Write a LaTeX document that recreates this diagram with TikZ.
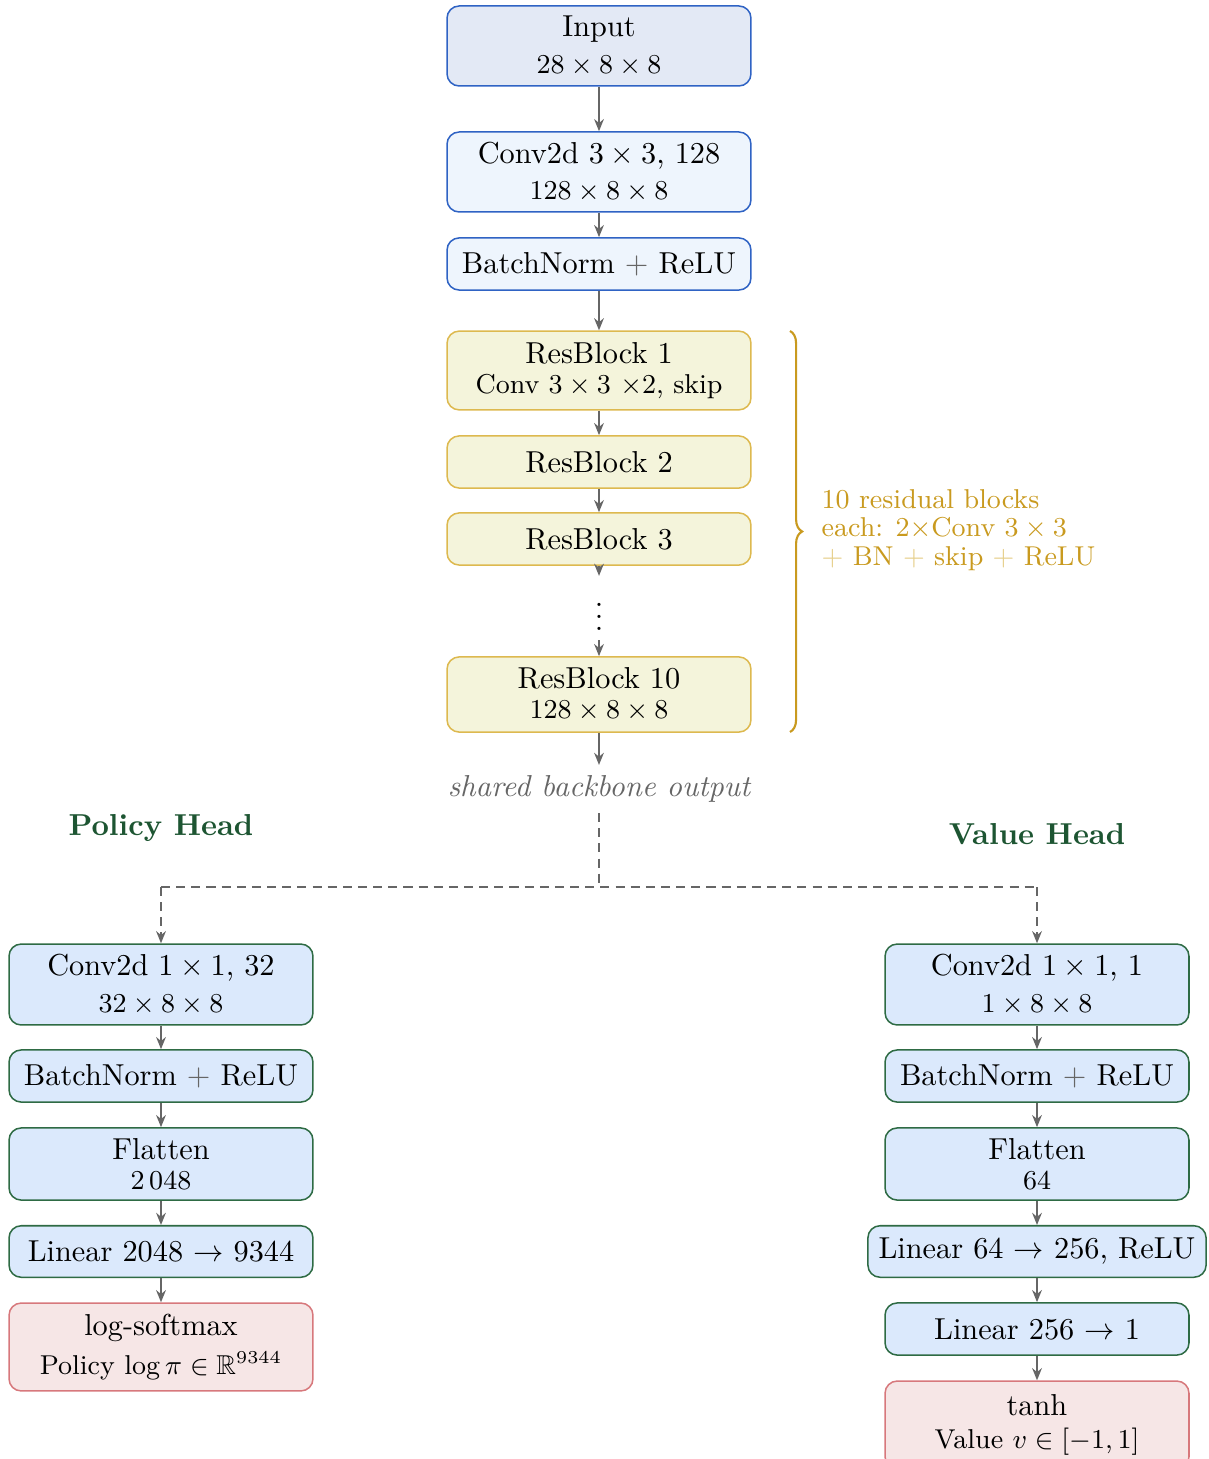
\documentclass[tikz,border=0pt]{standalone}
\usepackage{amsmath,amssymb}
\usetikzlibrary{arrows.meta,decorations.pathreplacing}

\definecolor{edgeblue}{HTML}{2F63C4}
\definecolor{inputfill}{HTML}{E3E9F5}
\definecolor{stemfill}{HTML}{EEF5FD}
\definecolor{resfill}{HTML}{F4F4DB}
\definecolor{resedge}{HTML}{DDB94F}
\definecolor{headfill}{HTML}{DBE9FC}
\definecolor{headedge}{HTML}{2E6B44}
\definecolor{outfill}{HTML}{F6E6E6}
\definecolor{outedge}{HTML}{D7787C}
\definecolor{gold}{HTML}{C99A1F}
\definecolor{goldlight}{HTML}{E6CF8C}
\definecolor{darkgreen}{HTML}{1D5532}
\definecolor{arrgray}{HTML}{666666}

\tikzset{
  box/.style={rounded corners=4pt, line width=0.5pt, minimum width=100.3pt,
    inner xsep=3.5pt, inner ysep=2pt, align=center},
  stem/.style={box, draw=edgeblue, fill=stemfill},
  resblk/.style={box, draw=resedge, fill=resfill},
  headblk/.style={box, draw=headedge, fill=headfill},
  outblk/.style={box, draw=outedge, fill=outfill},
  arr/.style={draw=arrgray, line width=0.7pt, -{Stealth[length=4pt,width=3.2pt]}},
  dashline/.style={draw=arrgray, line width=0.7pt, dash pattern=on 3pt off 2pt},
  headtitle/.style={font=\bfseries, text=darkgreen}
}

\newcommand{\gplus}{{\color{arrgray}$+$}}

\begin{document}
\begin{tikzpicture}[x=0.33pt,y=-0.33pt]
    \useasboundingbox (0,0) rectangle (1208,1459);

    % Tronco común
    \node[stem, fill=inputfill, minimum height=26.4pt] (input) at (599,46)
        {Input\\{\small $28\times8\times8$}};
    \node[stem, minimum height=26.4pt] (conv) at (599,172)
        {Conv2d $3\times3$, 128\\{\small $128\times8\times8$}};
    \node[stem, minimum height=17.2pt] (bn) at (599,264) {BatchNorm \gplus\ ReLU};

    % Bloques residuales
    \node[resblk, minimum height=26pt] (rb1) at (599,370.5)
        {ResBlock 1\\[-2pt]{\small Conv $3\times3$ $\times$2, skip}};
    \node[resblk, minimum height=17.2pt] (rb2) at (599,462) {ResBlock 2};
    \node[resblk, minimum height=17.2pt] (rb3) at (599,539) {ResBlock 3};
    \node[inner sep=0pt, minimum height=20.8pt] (dots) at (599,608) {$\vdots$};
    \node[resblk, minimum height=24.8pt] (rb10) at (599,694.5)
        {ResBlock 10\\[-2pt]{\small $128\times8\times8$}};

    \node[text=arrgray, font=\itshape, inner sep=3.3pt] (shared) at (599,789)
        {shared backbone output};

    \draw[arr] (input) -- (conv);
    \draw[arr] (conv) -- (bn);
    \draw[arr] (bn) -- (rb1);
    \draw[arr] (rb1) -- (rb2);
    \draw[arr] (rb2) -- (rb3);
    \draw[arr] (rb3) -- (dots);
    \draw[arr] (dots) -- (rb10);
    \draw[arr] (rb10) -- (shared);

    % Llave
    \coordinate (btop) at (790,331);
    \coordinate (bbot) at (790,732);
    \draw[gold, line width=0.7pt, decorate, decoration={brace, amplitude=4pt}]
        (btop) -- (bbot);
    \node[anchor=west, align=left, text=gold, font=\small, inner sep=0pt] (bnote) at (821,530)
        {10 residual blocks\\[-1.5pt]each: 2$\times$Conv $3\times3$\\[-1.5pt]
         {\color{goldlight}$+$} BN {\color{goldlight}$+$} skip {\color{goldlight}$+$} ReLU};

    % Bifurcación
    \coordinate (split) at (599,887);
    \coordinate (lsplit) at (161,887);
    \coordinate (rsplit) at (1037,887);
    \draw[dashline] (shared) -- (split);
    \draw[dashline] (lsplit) -- (rsplit);

    \node[headtitle] (ptitle) at (161,828) {Policy Head};
    \node[headtitle] (vtitle) at (1037,834) {Value Head};

    % Cabeza de política
    \node[headblk, minimum height=26.7pt] (pconv) at (161,984.5)
        {Conv2d $1\times1$, 32\\{\small $32\times8\times8$}};
    \node[headblk, minimum height=17.2pt] (pbn) at (161,1076) {BatchNorm \gplus\ ReLU};
    \node[headblk, minimum height=23.8pt] (pflat) at (161,1164)
        {Flatten\\[-2pt]{\small 2\,048}};
    \node[headblk, minimum height=17pt] (plin) at (161,1251.5) {Linear 2048 $\to$ 9344};
    \node[outblk, minimum height=29pt] (pout) at (161,1347)
        {log-softmax\\[1pt]{\small Policy $\log\pi\in\mathbb{R}^{9344}$}};

    \draw[dashline, -{Stealth[length=4pt,width=3.2pt]}] (lsplit) -- (pconv);
    \draw[arr] (pconv) -- (pbn);
    \draw[arr] (pbn) -- (pflat);
    \draw[arr] (pflat) -- (plin);
    \draw[arr] (plin) -- (pout);

    % Cabeza de valor
    \node[headblk, minimum height=26.7pt] (vconv) at (1037,984.5)
        {Conv2d $1\times1$, 1\\{\small $1\times8\times8$}};
    \node[headblk, minimum height=17.2pt] (vbn) at (1037,1076) {BatchNorm \gplus\ ReLU};
    \node[headblk, minimum height=23.8pt] (vflat) at (1037,1164)
        {Flatten\\[-2pt]{\small 64}};
    \node[headblk, minimum height=17pt] (vlin1) at (1037,1251.5)
        {Linear 64 $\to$ 256, ReLU};
    \node[headblk, minimum height=17.2pt] (vlin2) at (1037,1329) {Linear 256 $\to$ 1};
    \node[outblk, minimum height=29pt] (vout) at (1037,1425)
        {tanh\\[-1pt]{\small Value $v\in[-1,1]$}};

    \draw[dashline, -{Stealth[length=4pt,width=3.2pt]}] (rsplit) -- (vconv);
    \draw[arr] (vconv) -- (vbn);
    \draw[arr] (vbn) -- (vflat);
    \draw[arr] (vflat) -- (vlin1);
    \draw[arr] (vlin1) -- (vlin2);
    \draw[arr] (vlin2) -- (vout);
\end{tikzpicture}
\end{document}
